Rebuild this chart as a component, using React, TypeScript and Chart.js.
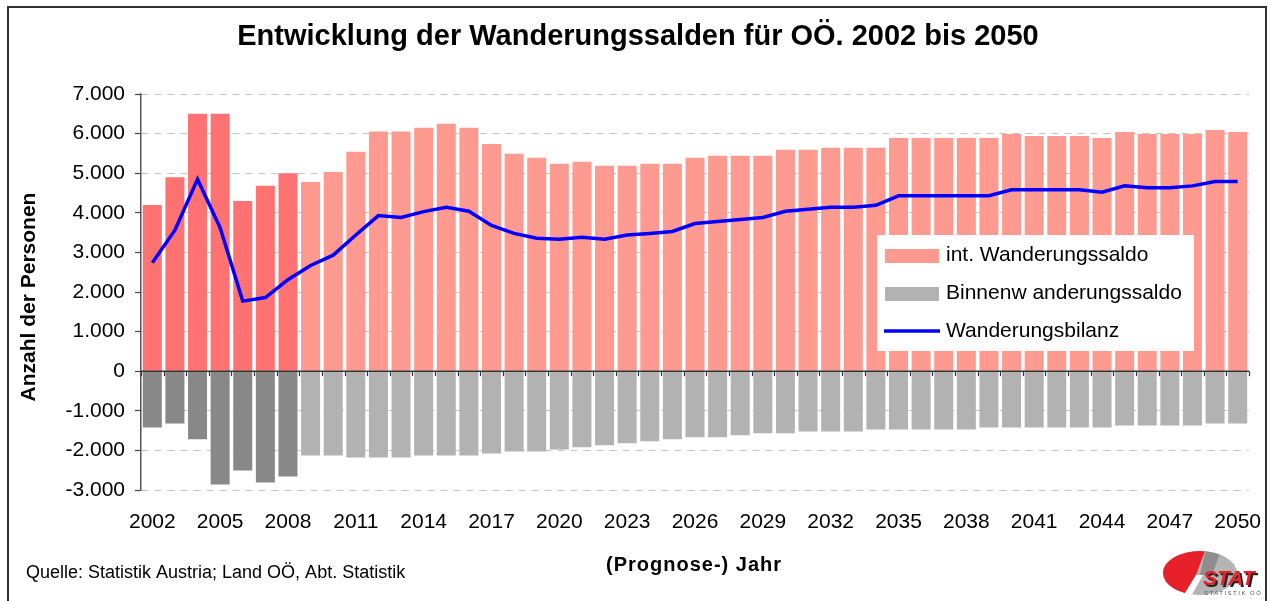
import { useEffect, useRef } from "react";
import { Chart, registerables } from "chart.js";

Chart.register(...registerables);

const years = [
  "2002", "2003", "2004", "2005", "2006", "2007", "2008", "2009", "2010", "2011",
  "2012", "2013", "2014", "2015", "2016", "2017", "2018", "2019", "2020", "2021",
  "2022", "2023", "2024", "2025", "2026", "2027", "2028", "2029", "2030", "2031",
  "2032", "2033", "2034", "2035", "2036", "2037", "2038", "2039", "2040", "2041",
  "2042", "2043", "2044", "2045", "2046", "2047", "2048", "2049", "2050",
];

const intSaldo = [
  4200, 4900, 6500, 6500, 4300, 4680, 5000, 4780, 5030, 5540,
  6050, 6050, 6150, 6250, 6150, 5740, 5490, 5390, 5240, 5290,
  5190, 5190, 5240, 5240, 5390, 5440, 5440, 5440, 5590, 5590,
  5640, 5640, 5640, 5890, 5890, 5890, 5890, 5890, 5990, 5940,
  5940, 5940, 5890, 6040, 5990, 5990, 5990, 6090, 6040,
];

const binnenSaldo = [
  -1420, -1320, -1720, -2860, -2510, -2810, -2660, -2130, -2130, -2180,
  -2180, -2180, -2130, -2130, -2130, -2080, -2030, -2030, -1980, -1920,
  -1870, -1820, -1770, -1720, -1670, -1670, -1620, -1570, -1570, -1520,
  -1520, -1520, -1470, -1470, -1470, -1470, -1470, -1420, -1420, -1420,
  -1420, -1420, -1420, -1370, -1370, -1370, -1370, -1320, -1320,
];

const bilanz = [
  2740, 3560, 4850, 3620, 1770, 1860, 2310, 2670, 2930, 3440,
  3930, 3880, 4030, 4140, 4040, 3680, 3480, 3360, 3330, 3380,
  3330, 3440, 3480, 3530, 3730, 3780, 3830, 3880, 4040, 4090,
  4140, 4140, 4190, 4430, 4430, 4430, 4430, 4430, 4580, 4580,
  4580, 4580, 4520, 4680, 4630, 4630, 4680, 4790, 4790,
];

const lastObservedYear = "2008";
const xTickEvery = 3;

const titleText = "Entwicklung der Wanderungssalden für OÖ. 2002 bis 2050";
const yTitle = "Anzahl der Personen";
const xTitle = "(Prognose-) Jahr";
const sourceText = "Quelle: Statistik Austria; Land OÖ, Abt. Statistik";
const legendLabels = ["int. Wanderungssaldo", "Binnenw anderungssaldo", "Wanderungsbilanz"];

const FONT = "'Liberation Sans', Arial, Helvetica, sans-serif";
const RED_OBS = "#FF7272";
const RED_PROG = "#FF9A90";
const GREY_OBS = "#888888";
const GREY_PROG = "#B2B2B2";
const BLUE = "#0000FF";

const fmt = (v: number) => {
  const s = Math.abs(Math.round(v)).toString().replace(/\B(?=(\d{3})+(?!\d))/g, ".");
  return (v < 0 ? "-" : "") + s;
};

const isObserved = (y: string) => Number(y) <= Number(lastObservedYear);

const decorPlugin = {
  id: "decor",
  afterDatasetsDraw(chart: any) {
    const { ctx, chartArea } = chart;
    const y0 = chart.scales.y.getPixelForValue(0);
    ctx.save();
    ctx.strokeStyle = "#333333";
    ctx.lineWidth = 1.5;
    ctx.beginPath();
    ctx.moveTo(chartArea.left, y0);
    ctx.lineTo(chartArea.right, y0);
    ctx.stroke();
    const n = years.length;
    const w = (chartArea.right - chartArea.left) / n;
    ctx.lineWidth = 1.2;
    for (let i = 0; i <= n; i++) {
      const x = Math.round(chartArea.left + i * w) + 0.5;
      ctx.beginPath();
      ctx.moveTo(x, y0);
      ctx.lineTo(x, y0 + 5);
      ctx.stroke();
    }
    ctx.restore();
  },
  afterDraw(chart: any) {
    const { ctx } = chart;
    ctx.save();
    // frame
    ctx.strokeStyle = "#333333";
    ctx.lineWidth = 2;
    ctx.strokeRect(8, 7, 1258, 610);

    // title
    ctx.fillStyle = "#000";
    ctx.textAlign = "center";
    ctx.textBaseline = "alphabetic";
    ctx.font = `bold 29px ${FONT}`;
    ctx.fillText(titleText, 638, 45);

    // y title
    ctx.save();
    ctx.translate(35, 297);
    ctx.rotate(-Math.PI / 2);
    ctx.font = `bold 21px ${FONT}`;
    ctx.textBaseline = "alphabetic";
    ctx.fillText(yTitle, 0, 0);
    ctx.restore();

    // x title
    ctx.font = `bold 20px ${FONT}`;
    (ctx as any).letterSpacing = "1px";
    ctx.fillText(xTitle, 694, 571);
    (ctx as any).letterSpacing = "0px";

    // source
    ctx.textAlign = "left";
    ctx.font = `18px ${FONT}`;
    ctx.fillText(sourceText, 26, 578);

    // legend
    const lx = 877, ly = 235, lw = 317, lh = 116;
    ctx.fillStyle = "#FFFFFF";
    ctx.fillRect(lx, ly, lw, lh);
    ctx.fillStyle = RED_PROG;
    ctx.fillRect(885, 249, 54, 14);
    ctx.fillStyle = GREY_PROG;
    ctx.fillRect(885, 287, 54, 14);
    ctx.strokeStyle = BLUE;
    ctx.lineWidth = 3.5;
    ctx.beginPath();
    ctx.moveTo(884, 331);
    ctx.lineTo(940, 331);
    ctx.stroke();
    ctx.fillStyle = "#000";
    ctx.font = `21px ${FONT}`;
    ctx.textBaseline = "middle";
    ctx.fillText(legendLabels[0], 946, 255);
    ctx.fillText(legendLabels[1], 946, 293);
    ctx.fillText(legendLabels[2], 946, 331);

    // logo
    ctx.save();
    ctx.beginPath();
    ctx.ellipse(1200, 573, 37, 22, 0, 0, Math.PI * 2);
    ctx.clip();
    ctx.fillStyle = "#B4B4B4";
    ctx.fillRect(1160, 548, 80, 50);
    ctx.fillStyle = "#8E8E8E";
    ctx.beginPath();
    ctx.moveTo(1206, 548);
    ctx.lineTo(1222, 548);
    ctx.lineTo(1212, 575);
    ctx.lineTo(1200, 575);
    ctx.closePath();
    ctx.fill();
    ctx.fillStyle = "#E8202A";
    ctx.beginPath();
    ctx.moveTo(1160, 548);
    ctx.lineTo(1206, 548);
    ctx.lineTo(1196, 575);
    ctx.lineTo(1182, 598);
    ctx.lineTo(1160, 598);
    ctx.closePath();
    ctx.fill();
    ctx.fillStyle = "#FFFFFF";
    ctx.beginPath();
    ctx.moveTo(1196, 575);
    ctx.lineTo(1203, 575);
    ctx.lineTo(1190, 598);
    ctx.lineTo(1182, 598);
    ctx.closePath();
    ctx.fill();
    ctx.restore();
    ctx.font = `italic bold 21px ${FONT}`;
    ctx.textBaseline = "alphabetic";
    ctx.textAlign = "left";
    ctx.fillStyle = "#222";
    ctx.fillText("STAT", 1205, 587);
    ctx.fillStyle = "#E8202A";
    ctx.fillText("STAT", 1203, 585);
    ctx.font = `6px ${FONT}`;
    (ctx as any).letterSpacing = "1.5px";
    ctx.fillStyle = "#555";
    ctx.fillText("STATISTIK OÖ", 1204, 595);
    (ctx as any).letterSpacing = "0px";
    ctx.restore();
  },
};

export default function App() {
  const ref = useRef<HTMLCanvasElement | null>(null);

  useEffect(() => {
    if (!ref.current) return;
    const chart = new Chart(ref.current, {
      type: "bar",
      data: {
        labels: years,
        datasets: [
          {
            type: "line",
            label: legendLabels[2],
            data: bilanz,
            borderColor: BLUE,
            backgroundColor: BLUE,
            borderWidth: 3.5,
            pointRadius: 0,
            tension: 0,
            order: 0,
          } as any,
          {
            type: "bar",
            label: legendLabels[0],
            data: intSaldo,
            backgroundColor: years.map((y) => (isObserved(y) ? RED_OBS : RED_PROG)),
            grouped: false,
            barPercentage: 1,
            categoryPercentage: 0.84,
            order: 1,
          } as any,
          {
            type: "bar",
            label: legendLabels[1],
            data: binnenSaldo,
            backgroundColor: years.map((y) => (isObserved(y) ? GREY_OBS : GREY_PROG)),
            grouped: false,
            barPercentage: 1,
            categoryPercentage: 0.84,
            order: 1,
          } as any,
        ],
      },
      options: {
        responsive: false,
        animation: false,
        devicePixelRatio: 1,
        layout: { padding: { left: 0, right: 20, top: 94, bottom: 0 } },
        plugins: {
          legend: { display: false },
          title: { display: false },
          tooltip: { enabled: false },
        },
        scales: {
          x: {
            offset: true,
            grid: { display: false, drawTicks: false },
            border: { display: false },
            ticks: {
              autoSkip: false,
              maxRotation: 0,
              minRotation: 0,
              padding: 20,
              color: "#000",
              font: { family: FONT, size: 21 },
              callback: (_v: any, i: number) => (i % xTickEvery === 0 ? years[i] : ""),
            },
            afterFit: (s: any) => {
              s.height = 111;
              s.paddingLeft = 0;
              s.paddingRight = 0;
            },
          },
          y: {
            min: -3000,
            max: 7000,
            ticks: {
              stepSize: 1000,
              padding: 10,
              color: "#000",
              font: { family: FONT, size: 21 },
              callback: (v: any) => fmt(Number(v)),
            },
            grid: {
              color: "#C4C4C4",
              lineWidth: 1,
              tickColor: "#444444",
              tickLength: 6,
              tickWidth: 1.2,
            },
            border: { display: true, color: "#555555", width: 1.5, dash: [7, 6] },
            afterFit: (s: any) => {
              s.width = 141;
              s.paddingTop = 0;
              s.paddingBottom = 0;
            },
          },
        },
      },
      plugins: [decorPlugin],
    });
    return () => chart.destroy();
  }, []);

  return (
    <div style={{ position: "absolute", left: 0, top: 0, width: 1269, height: 601, background: "#fff" }}>
      <canvas ref={ref} width={1269} height={601} style={{ display: "block", width: 1269, height: 601 }} />
    </div>
  );
}
